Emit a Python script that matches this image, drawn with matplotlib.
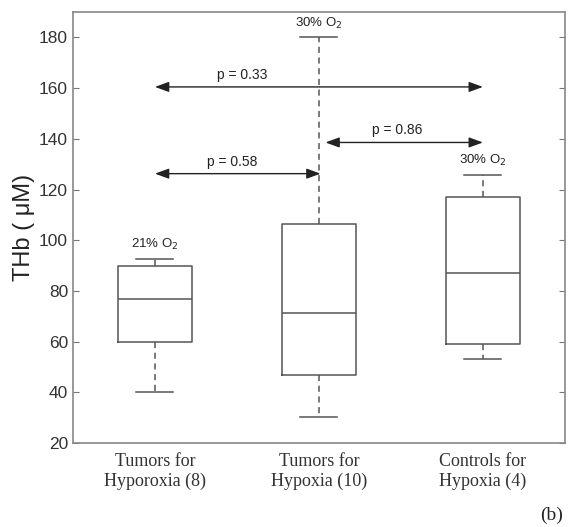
import matplotlib.pyplot as plt
import numpy as np

# box statistics (THb, uM)
groups = ['Tumors for\nHyporoxia (8)', 'Tumors for\nHypoxia (10)', 'Controls for\nHypoxia (4)']
whislo = [40, 30.4, 53.3]
q1 = [60, 46.8, 59.2]
med = [77, 71.5, 87]
q3 = [89.7, 106.6, 117]
whishi = [92.8, 180, 125.9]
o2_labels = ['21% O$_2$', '30% O$_2$', '30% O$_2$']

# pairwise comparisons: (from group, to group, y level, p-value)
pairs = [(1, 3, 160.5, 'p = 0.33'), (1, 2, 126.3, 'p = 0.58'), (2, 3, 138.6, 'p = 0.86')]
p_label_x = [1.53, 1.47, 2.48]

gray = '#555555'
fig = plt.figure(figsize=(5.7, 5.27), dpi=100)
ax = fig.add_axes([0.128, 0.159, 0.863, 0.818])

stats = []
for i in range(3):
    stats.append({'whislo': whislo[i], 'q1': q1[i], 'med': med[i],
                  'q3': q3[i], 'whishi': whishi[i], 'fliers': []})
ax.bxp(stats, positions=[1, 2, 3], widths=0.45, showfliers=False,
       boxprops=dict(color=gray, lw=1.1),
       medianprops=dict(color=gray, lw=1.1),
       whiskerprops=dict(color=gray, lw=1.1, ls=(0, (4, 3))),
       capprops=dict(color=gray, lw=1.1))

for i in range(3):
    ax.text(i + 1, whishi[i] + 2.5, o2_labels[i], ha='center', va='bottom',
            fontsize=9.5, family='Liberation Sans', color='#222222')

for (a, b, y, lab), lx in zip(pairs, p_label_x):
    a0 = a + 0.04 if a == 2 else a
    b0 = b + 0.01 if b == 2 else b
    ax.annotate('', xy=(b0, y), xytext=(a0, y),
                arrowprops=dict(arrowstyle='<|-|>,head_length=0.6,head_width=0.22',
                                color='#222222', lw=1.0,
                                mutation_scale=14, shrinkA=0, shrinkB=0))
    ax.text(lx, y + 2, lab, ha='center', va='bottom', fontsize=10,
            family='Liberation Sans', color='#222222')

ax.set_xlim(0.5, 3.5)
ax.set_ylim(20, 190)
ax.set_yticks(np.arange(20, 181, 20))
ax.set_xticks([1, 2, 3])
ax.set_xticklabels(groups, family='Liberation Serif', fontsize=13, color='#333333')
ax.tick_params(axis='x', length=0, pad=7)
ax.tick_params(axis='y', direction='in', right=True, length=4, color='#777777',
               labelsize=12.5, labelcolor='#333333')
for lab in ax.get_yticklabels():
    lab.set_family('Liberation Sans')
for s in ax.spines.values():
    s.set_color('#888888')
    s.set_linewidth(1.2)

ax.set_ylabel('THb ( μM)', fontsize=17, family='Liberation Sans', color='#222222', labelpad=3)
fig.text(0.988, 0.005, '(b)', ha='right', va='bottom', fontsize=14,
         family='Liberation Serif', color='#222222')

fig.savefig('out.png', dpi=100)
